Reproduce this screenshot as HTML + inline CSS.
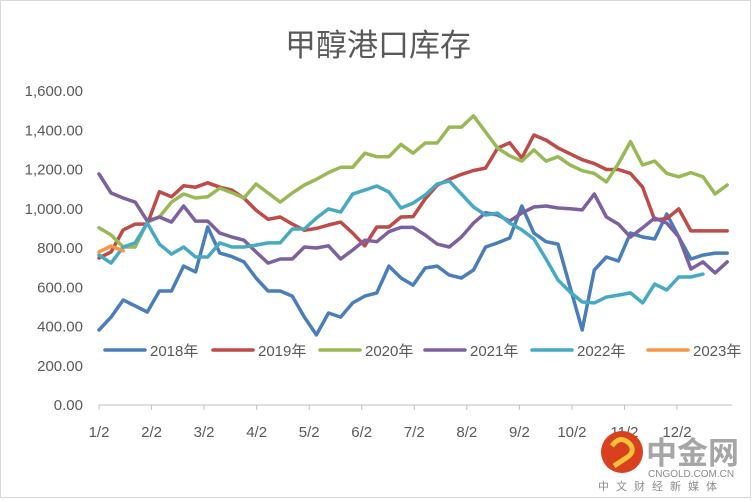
<!DOCTYPE html>
<html><head><meta charset="utf-8"><style>
html,body{margin:0;padding:0;background:#fff;}
svg{display:block;font-family:"Liberation Sans","Noto Sans CJK SC",sans-serif;}
</style></head><body>
<svg id="chart" width="752" height="502" viewBox="0 0 752 502">
<rect x="0.5" y="0.5" width="750" height="497" fill="#fff" stroke="#d9d9d9"/>
<text x="378" y="56" text-anchor="middle" font-size="31" fill="#595959">甲醇港口库存</text>
<g id="yaxis"></g>
<g id="xaxis"></g>
<g id="series"></g>
<g id="legend"></g>
<g>
<circle cx="622" cy="452" r="21" fill="#d9401e"/>
<path d="M612 446 q8 -12 18 -2 q6 8 -4 14 q-6 4 -12 8" stroke="#f5c23a" stroke-width="5" fill="none"/>
<text x="646" y="464" font-size="31" font-weight="bold" fill="#a6a6a6">中金网</text>
<text x="648" y="477" font-size="10" fill="#8c8c8c">CNGOLD.COM.CN</text>
<text x="598" y="490" font-size="11" fill="#8c8c8c" letter-spacing="7">中文财经新媒体</text>
</g>
</svg>
<script>
const yTicks = [0,200,400,600,800,1000,1200,1400,1600];
const xLabels = ["1/2","2/2","3/2","4/2","5/2","6/2","7/2","8/2","9/2","10/2","11/2","12/2"];
const xLabelWeeks = [0,4.35,8.7,13.05,17.4,21.75,26.1,30.45,34.8,39.15,43.5,47.85];
const seriesNames = ["2018年","2019年","2020年","2021年","2022年","2023年"];
const s2018 = [382,448,535,505,474,581,581,708,678,907,774,756,729,647,581,581,555,448,357,469,448,520,555,571,708,647,611,698,708,662,647,688,805,826,851,1014,876,832,820,601,382,688,754,734,876,856,846,973,856,744,764,774,774];
const s2019 = [749,780,892,922,922,1087,1061,1117,1110,1132,1110,1095,1054,993,946,958,922,890,900,917,932,876,811,907,907,958,960,1050,1120,1150,1175,1195,1207,1309,1336,1258,1376,1350,1310,1280,1250,1230,1200,1200,1180,1110,943,950,999,887,887,887,887];
const s2020 = [903,866,805,805,932,958,1034,1075,1055,1061,1105,1082,1055,1126,1080,1034,1080,1121,1150,1184,1211,1211,1283,1265,1265,1328,1283,1335,1335,1416,1416,1473,1391,1309,1270,1243,1300,1243,1265,1223,1194,1180,1137,1230,1342,1223,1243,1180,1163,1184,1163,1075,1121];
const s2021 = [1177,1080,1055,1034,937,958,932,1014,937,937,876,856,840,780,723,744,744,805,800,811,744,790,840,832,883,905,905,866,820,805,856,927,980,968,937,978,1009,1014,1004,1000,994,1075,958,922,856,903,953,927,856,693,729,673,729];
const s2022 = [764,723,805,826,927,820,769,805,754,754,826,805,805,815,826,826,897,897,953,999,983,1075,1095,1116,1085,1004,1029,1070,1126,1141,1075,1009,968,978,927,892,846,744,637,576,525,520,550,560,571,520,616,586,652,652,667];
const s2023 = [780,810,785];
const allSeries = [s2018,s2019,s2020,s2021,s2022,s2023];
const colors = ["#4a7ebb","#be4b48","#98b954","#7d60a0","#46aac5","#f79646"];

const NS="http://www.w3.org/2000/svg";
const X0=99, XSTEP=12.08, Y0=405, YSCALE=314/1600;
const xs = i => X0 + i*XSTEP;
const ys = v => Y0 - v*YSCALE;
function mk(tag, attrs, parent){const e=document.createElementNS(NS,tag);for(const k in attrs)e.setAttribute(k,attrs[k]);parent.appendChild(e);return e;}

const yg=document.getElementById('yaxis');
yTicks.forEach(t=>{
  const tx=mk('text',{x:83,y:ys(t)+5,'text-anchor':'end','font-size':15,fill:'#595959'},yg);
  
  
  tx.textContent=t.toLocaleString('en-US',{minimumFractionDigits:2,maximumFractionDigits:2});
});
const xg=document.getElementById('xaxis');
const axl=mk('line',{x1:X0,y1:Y0,x2:xs(52.4),y2:Y0,stroke:'#bfbfbf','stroke-width':1},xg);


xLabels.forEach((l,i)=>{
  const x=xs(xLabelWeeks[i]);
  const tk=mk('line',{x1:x,y1:Y0,x2:x,y2:Y0+5,stroke:'#bfbfbf'},xg);
  
  
  const tx=mk('text',{x:x,y:437,'text-anchor':'middle','font-size':15,fill:'#595959'},xg);
  
  
  tx.textContent=l;
});
const sg=document.getElementById('series');
allSeries.forEach((s,k)=>{
  const pts=s.map((v,i)=>xs(i).toFixed(1)+','+ys(v).toFixed(1)).join(' ');
  const p=mk('polyline',{points:pts,fill:'none',stroke:colors[k],'stroke-width':3.5,'stroke-linejoin':'round','stroke-linecap':'round'},sg);
  
  
});
const lg=document.getElementById('legend');
const legX=[105,213,320,425,532,648];
seriesNames.forEach((n,k)=>{
  const g=mk('g',{},lg);
  
  
  mk('line',{x1:legX[k],y1:350,x2:legX[k]+40,y2:350,stroke:colors[k],'stroke-width':3.5,'stroke-linecap':'round'},g);
  const t=mk('text',{x:legX[k]+45,y:356,'font-size':15,fill:'#595959'},g);
  t.textContent=n;
});
</script>
</body></html>
